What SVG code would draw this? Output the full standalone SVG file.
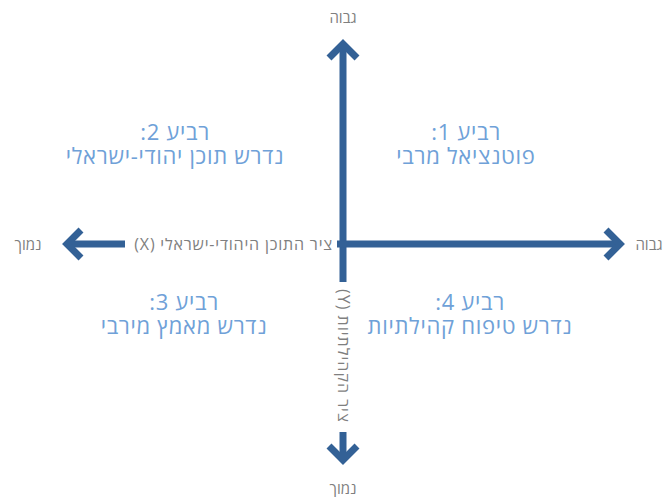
<svg xmlns="http://www.w3.org/2000/svg" width="670" height="497" viewBox="0 0 670 497">
<style>
.ax{stroke:#336196;stroke-width:7;fill:none;stroke-linecap:butt}
.hd{stroke:#336196;stroke-width:7;fill:none;stroke-linejoin:miter;stroke-miterlimit:10}
.lb{font-family:"Open Sans","DejaVu Sans",sans-serif;font-size:15px;fill:#7f7f7f;direction:rtl}
.q{font-family:"Open Sans","DejaVu Sans",sans-serif;font-size:22px;letter-spacing:0.7px;fill:#6fa1d8;direction:rtl;text-anchor:middle}
</style>
<rect width="670" height="497" fill="#ffffff"/>
<g id="connectors">
<line class="ax" x1="343" y1="44" x2="343" y2="282"/>
<polyline class="hd" points="329,58 343,44 357,58"/>
<line class="ax" x1="343" y1="432" x2="343" y2="460"/>
<polyline class="hd" points="329,446 343,460 357,446"/>
<line class="ax" x1="337" y1="244" x2="620" y2="244"/>
<polyline class="hd" points="606,230 620,244 606,258"/>
<line class="ax" x1="67" y1="244" x2="125" y2="244"/>
<polyline class="hd" points="81,230 67,244 81,258"/>
</g>
<g id="axis-x-label"><text class="lb" x="333" y="249.5" style="font-size:16px;letter-spacing:0.8px" text-anchor="start">ציר התוכן היהודי-ישראלי (X)</text></g>
<g id="axis-y-label"><text class="lb" transform="translate(338,289) rotate(90)" x="0" y="0" style="font-size:16px;letter-spacing:1px;text-anchor:end">ציר הקהילתיות (Y)</text></g>
<g id="high-top"><text class="lb" x="343" y="23" text-anchor="middle">גבוה</text></g>
<g id="high-right"><text class="lb" x="649" y="249.5" text-anchor="middle">גבוה</text></g>
<g id="low-left"><text class="lb" x="28" y="249.5" text-anchor="middle">נמוך</text></g>
<g id="low-bottom"><text class="lb" x="343" y="494" text-anchor="middle">נמוך</text></g>
<g id="q1"><text class="q" x="466" y="140">רביע 1:</text><text class="q" x="466" y="164">פוטנציאל מרבי</text></g>
<g id="q2"><text class="q" x="175" y="140">רביע 2:</text><text class="q" x="175" y="164">נדרש תוכן יהודי-ישראלי</text></g>
<g id="q3"><text class="q" x="184" y="310">רביע 3:</text><text class="q" x="184" y="334">נדרש מאמץ מירבי</text></g>
<g id="q4"><text class="q" x="470" y="310">רביע 4:</text><text class="q" x="470" y="334">נדרש טיפוח קהילתיות</text></g>
</svg>
